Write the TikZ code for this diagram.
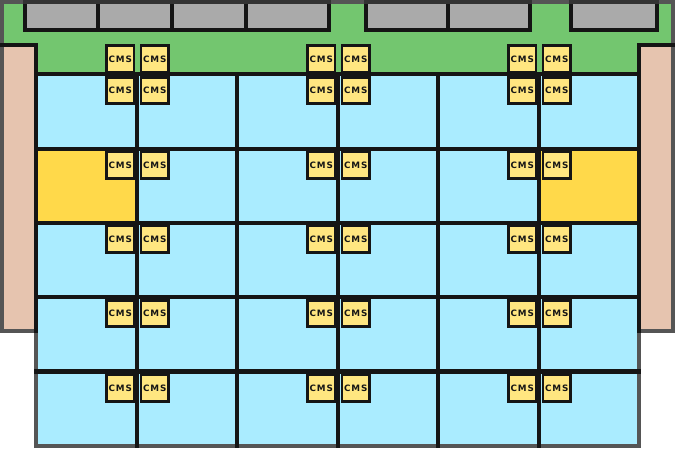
\documentclass[tikz,border=0pt]{standalone}
\usepackage{fontspec}
\newfontfamily\cmsfont[LetterSpace=10]{DejaVu Sans Bold}
\definecolor{bandgreen}{HTML}{73C66F}
\definecolor{cellblue}{HTML}{AAECFF}
\definecolor{sidepeach}{HTML}{E6C4AF}
\definecolor{boxgrey}{HTML}{AAAAAA}
\definecolor{cellyellow}{HTML}{FFD94A}
\definecolor{cmsyellow}{HTML}{FFE680}
\definecolor{outerline}{HTML}{555555}
\definecolor{innerline}{HTML}{151515}
\definecolor{topline}{HTML}{333333}
\tikzset{
  outerstroke/.style={draw=outerline,line width=4.2pt,line join=miter},
  innerstroke/.style={draw=innerline,line width=4.2pt,line join=miter,line cap=rect},
  topstroke/.style={draw=topline,line width=4.2pt},
  cms/.style={draw=innerline,line width=2.8pt,fill=cmsyellow,minimum width=27.5pt,minimum height=26.5pt,inner sep=0pt,
    font=\cmsfont\fontsize{8.8}{9}\selectfont,text=innerline}
}
\begin{document}
\begin{tikzpicture}[x=1pt,y=-1pt]
\useasboundingbox (0,0) rectangle (675,448);
% fills
\fill[bandgreen] (2,2) rectangle (673,74);
\fill[sidepeach] (2,45) rectangle (36,331);
\fill[sidepeach] (639,45) rectangle (673,331);
\foreach \xa/\xb in {25/98,98/172,172/246,246/329,366/448,448/530,571/657}
  \fill[boxgrey] (\xa,2) rectangle (\xb,30);
\fill[cellblue] (36,74) rectangle (639,446);
\fill[cellyellow] (36,149) rectangle (137,223);
\fill[cellyellow] (539,149) rectangle (639,223);
% outer contour
\path[outerstroke] (2,2) -- (673,2) -- (673,331) -- (639,331) -- (639,446) -- (36,446) -- (36,331) -- (2,331) -- cycle;
% grey boxes
\foreach \xa/\xb in {25/329,366/530,571/657}
  \path[innerstroke] (\xa,4) -- (\xa,30) -- (\xb,30) -- (\xb,4);
\foreach \xa in {98,172,246,448}
  \path[innerstroke] (\xa,2) -- (\xa,30);
\foreach \xa/\xb in {23/331,364/532,569/659}
  \path[topstroke] (\xa,2) -- (\xb,2);
% side columns
\path[innerstroke] (2,45) -- (36,45) -- (36,331);
\path[innerstroke] (673,45) -- (639,45) -- (639,331);
% grid
\foreach \ya in {74,149,223,297,371.5}
  \path[innerstroke] (36,\ya) -- (639,\ya);
\foreach \xa in {137,237,338,438,539}
  \path[innerstroke] (\xa,74) -- (\xa,446);
% CMS boxes
\foreach \xc [count=\i] in {0,201,402}
  \foreach \yc [count=\j] in {59,90.5,165,239,313.5,388}{
    \node[cms] (cmsl\i\j) at (120.2+\xc,\yc) {CMS};
    \node[cms] (cmsr\i\j) at (154.8+\xc,\yc) {CMS};
  }
\end{tikzpicture}
\end{document}
